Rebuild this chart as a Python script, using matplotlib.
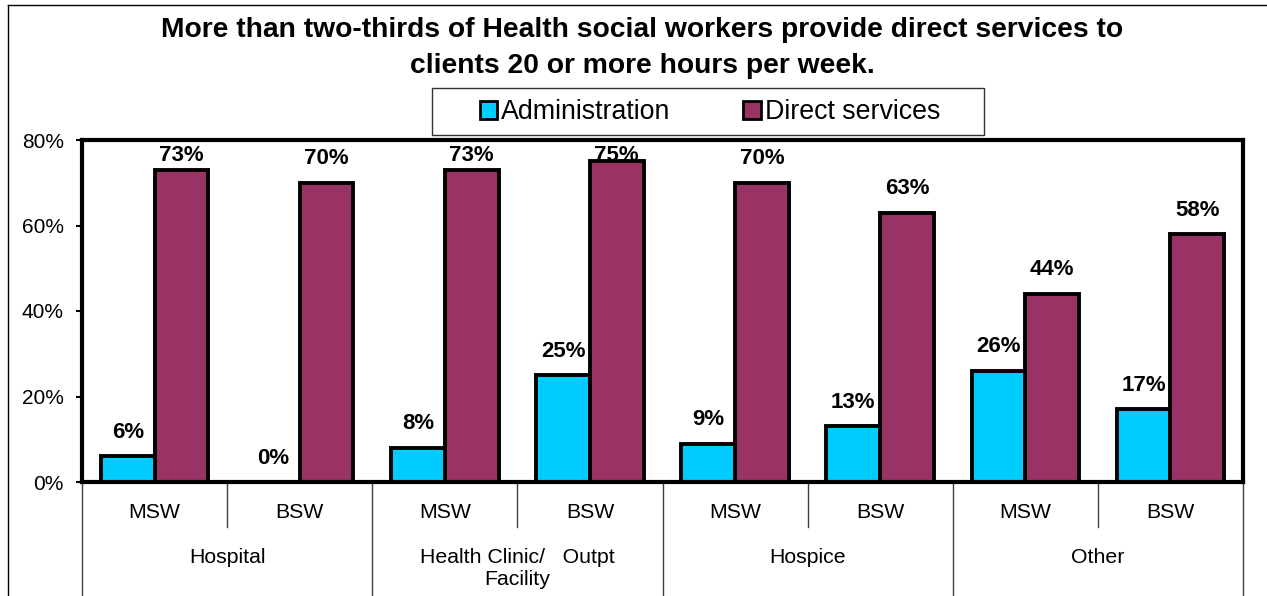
import matplotlib.pyplot as plt
from matplotlib.patches import Patch, Rectangle
from matplotlib.lines import Line2D
import numpy as np

# survey results: share of workers spending 20+ hours per week, by setting and degree
settings = ['Hospital', 'Health Clinic/   Outpt\nFacility', 'Hospice', 'Other']
degrees = ['MSW', 'BSW']
administration = [6, 0, 8, 25, 9, 13, 26, 17]
direct_services = [73, 70, 73, 75, 70, 63, 44, 58]

ADMIN_COLOR = '#00CCFF'
DIRECT_COLOR = '#993366'
W, H = 1267, 596


def main():
    plt.rcParams['font.family'] = ['Liberation Sans', 'DejaVu Sans']

    fig = plt.figure(figsize=(W / 100, H / 100), dpi=100)
    ax = fig.add_axes([82 / W, 1 - 482 / H, (1243 - 82) / W, (482 - 140) / H])

    x = np.arange(len(administration))
    bw = 0.37
    ax.bar(x - bw / 2, administration, bw, color=ADMIN_COLOR,
           edgecolor='black', linewidth=2.8)
    ax.bar(x + bw / 2, direct_services, bw, color=DIRECT_COLOR,
           edgecolor='black', linewidth=2.8)

    # value labels, kept inside the plot area
    for xs, vals in ((x - bw / 2, administration), (x + bw / 2, direct_services)):
        for xi, v in zip(xs, vals):
            ax.text(xi, min(v + 5.6, 76.3), f'{v}%', ha='center', va='center',
                    fontsize=16, fontweight='bold')

    ax.set_xlim(-0.5, len(administration) - 0.5)
    ax.set_ylim(0, 80)
    ax.set_yticks([0, 20, 40, 60, 80])
    ax.set_yticklabels([f'{t}%' for t in [0, 20, 40, 60, 80]])
    ax.tick_params(axis='y', direction='out', length=4, width=1.5,
                   labelsize=15, pad=9)
    ax.set_xticks([])
    for sp in ax.spines.values():
        sp.set_linewidth(3)

    # two-level category axis
    tr = ax.get_xaxis_transform()
    px = 1 / (482 - 140)
    for i in range(len(administration)):
        ax.text(i, -30 * px, degrees[i % 2], transform=tr, ha='center',
                va='center', fontsize=15.3)
    for g, name in enumerate(settings):
        ax.text(2 * g + 0.5, -66 * px, name, transform=tr, ha='center',
                va='top', fontsize=15.3, linespacing=1.2)
    for b in np.arange(0.5, len(administration) - 1, 2):
        ax.add_line(Line2D([b, b], [0, -45 * px], transform=tr, color='#404040',
                           lw=1, clip_on=False))
    for b in np.arange(-0.5, len(administration), 2):
        ax.add_line(Line2D([b, b], [0, -120 * px], transform=tr, color='#404040',
                           lw=1, clip_on=False))

    fig.text(642 / W, 1 - 48 / H,
             'More than two-thirds of Health social workers provide direct services to\n'
             'clients 20 or more hours per week.',
             ha='center', va='center', fontsize=20.3, fontweight='bold',
             linespacing=1.5)

    # legend with its own box
    fig.patches.append(Rectangle((432 / W, 1 - 135 / H), (984 - 432) / W, 47 / H,
                                 transform=fig.transFigure, fill=False,
                                 edgecolor='#333333', lw=1))
    handles = [Patch(facecolor=ADMIN_COLOR, edgecolor='black', linewidth=2),
               Patch(facecolor=DIRECT_COLOR, edgecolor='black', linewidth=2)]
    fig.legend(handles, ['Administration', 'Direct services'], loc='center',
               bbox_to_anchor=(710 / W, 1 - 112 / H), ncol=2, frameon=False,
               fontsize=19.3, handlelength=0.65, handleheight=0.65,
               handletextpad=0.15, columnspacing=2.7)

    # outer chart border
    fig.lines.append(Line2D([8 / W, 8 / W], [0, 1 - 5 / H], transform=fig.transFigure,
                            color='black', lw=1))
    fig.lines.append(Line2D([8 / W, 1], [1 - 5 / H, 1 - 5 / H], transform=fig.transFigure,
                            color='black', lw=1))

    fig.savefig('out.png', dpi=100)


if __name__ == '__main__':
    main()
